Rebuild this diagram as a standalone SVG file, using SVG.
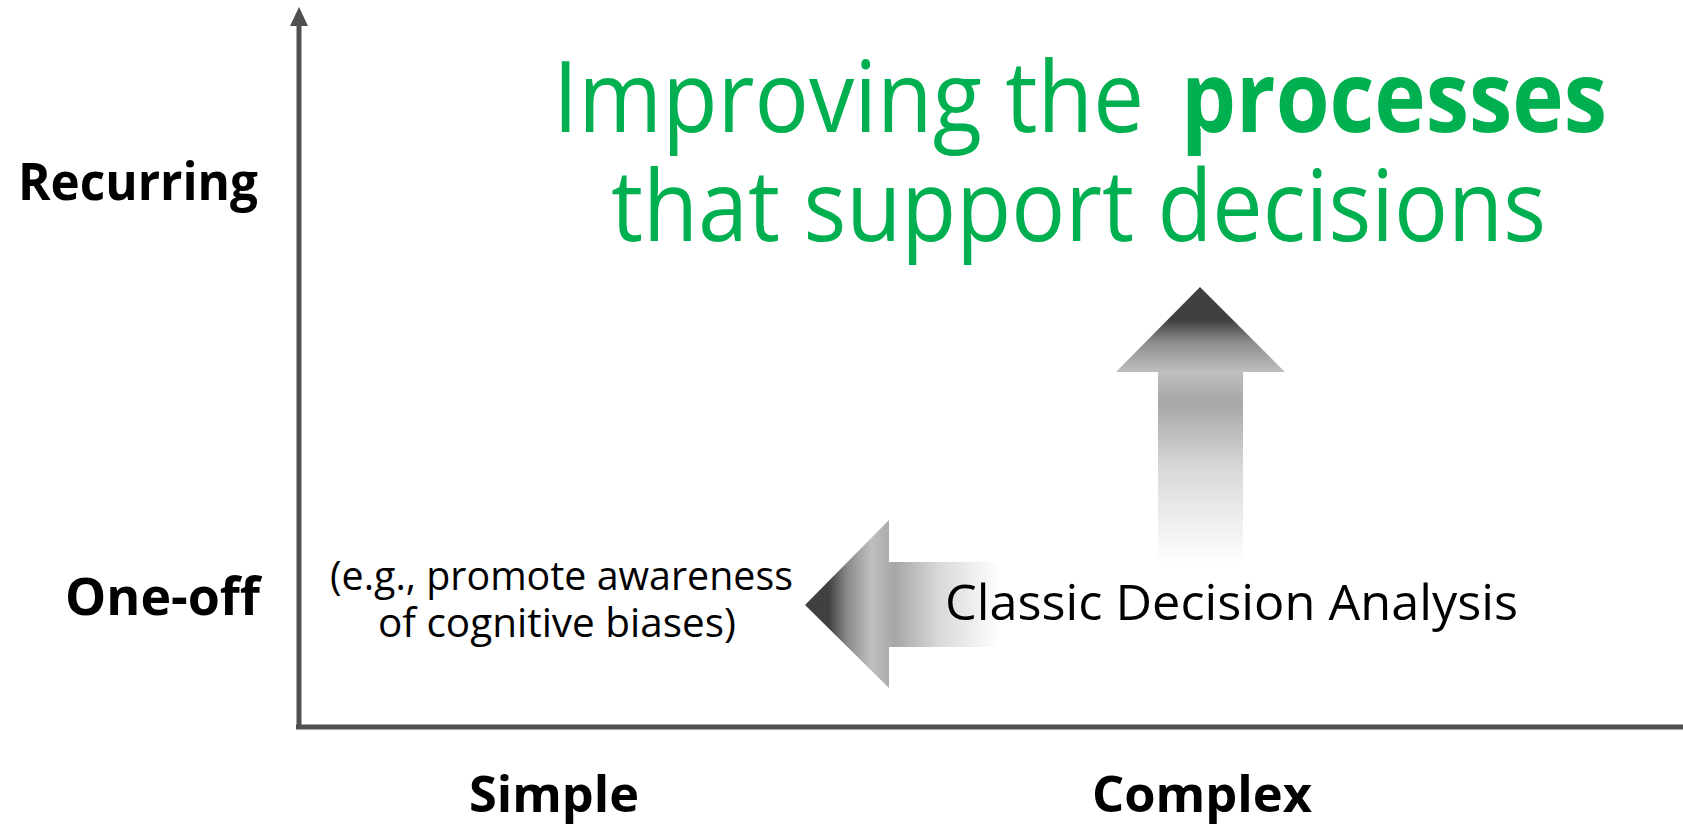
<svg xmlns="http://www.w3.org/2000/svg" width="1683" height="827" viewBox="0 0 1683 827">
<defs>
<style>
text{font-family:"Open Sans","Noto Sans","Liberation Sans",sans-serif}
.ax{font-weight:700;font-size:52px;fill:#000}
.axb{font-weight:700;font-size:50px;fill:#000}
.title{font-size:98px;fill:#00B050}
.lbl{fill:#000}
.axis{stroke:#505050;stroke-width:5;fill:none}
</style>
<linearGradient id="gUp" x1="0" y1="287" x2="0" y2="563" gradientUnits="userSpaceOnUse">
<stop offset="0" stop-color="#404040"/>
<stop offset="0.12" stop-color="#404040"/>
<stop offset="0.2" stop-color="#8c8c8c"/>
<stop offset="0.31" stop-color="#bfbfbf"/>
<stop offset="0.42" stop-color="#a6a6a6"/>
<stop offset="0.66" stop-color="#d9d9d9"/>
<stop offset="1" stop-color="#ffffff"/>
</linearGradient>
<linearGradient id="gLeft" x1="805" y1="0" x2="1000" y2="0" gradientUnits="userSpaceOnUse">
<stop offset="0" stop-color="#404040"/>
<stop offset="0.12" stop-color="#404040"/>
<stop offset="0.22" stop-color="#8c8c8c"/>
<stop offset="0.34" stop-color="#bfbfbf"/>
<stop offset="0.46" stop-color="#a6a6a6"/>
<stop offset="0.69" stop-color="#d9d9d9"/>
<stop offset="1" stop-color="#ffffff"/>
</linearGradient>
</defs>
<rect width="1683" height="827" fill="#fff"/>
<g id="axes">
<line class="axis" x1="299" y1="727" x2="299" y2="22"/>
<polygon points="299,7 290,26 308,26" fill="#505050"/>
<line class="axis" x1="296" y1="727" x2="1683" y2="727"/>
</g>
<g id="connectors">
<polygon id="arrow-up" points="1200,287 1285,372 1243,372 1243,563 1158,563 1158,372 1116,372" fill="url(#gUp)"/>
<polygon id="arrow-left" points="805,605 889,520 889,562 1000,562 1000,647 889,647 889,688" fill="url(#gLeft)"/>
</g>
<g id="label-recurring"><text class="ax" x="18" y="200" textLength="240" lengthAdjust="spacingAndGlyphs">Recurring</text></g>
<g id="label-oneoff"><text class="ax" x="65" y="615" textLength="195" lengthAdjust="spacingAndGlyphs">One-off</text></g>
<g id="label-simple"><text class="axb" x="469" y="812" textLength="170" lengthAdjust="spacingAndGlyphs">Simple</text></g>
<g id="label-complex"><text class="axb" x="1092" y="812" textLength="220" lengthAdjust="spacingAndGlyphs">Complex</text></g>
<g id="title">
<text class="title" y="132"><tspan x="553" textLength="591" lengthAdjust="spacingAndGlyphs">Improving the</tspan><tspan x="1181" font-weight="700" textLength="426" lengthAdjust="spacingAndGlyphs">processes</tspan></text>
<text class="title" x="611" y="241" textLength="935" lengthAdjust="spacingAndGlyphs">that support decisions</text>
</g>
<g id="node-classic"><text class="lbl" x="945" y="620" font-size="50" textLength="573" lengthAdjust="spacingAndGlyphs">Classic Decision Analysis</text></g>
<g id="node-eg">
<text class="lbl" x="330" y="590" font-size="40" textLength="463" lengthAdjust="spacingAndGlyphs">(e.g., promote awareness</text>
<text class="lbl" x="378" y="637" font-size="40" textLength="358" lengthAdjust="spacingAndGlyphs">of cognitive biases)</text>
</g>
</svg>
